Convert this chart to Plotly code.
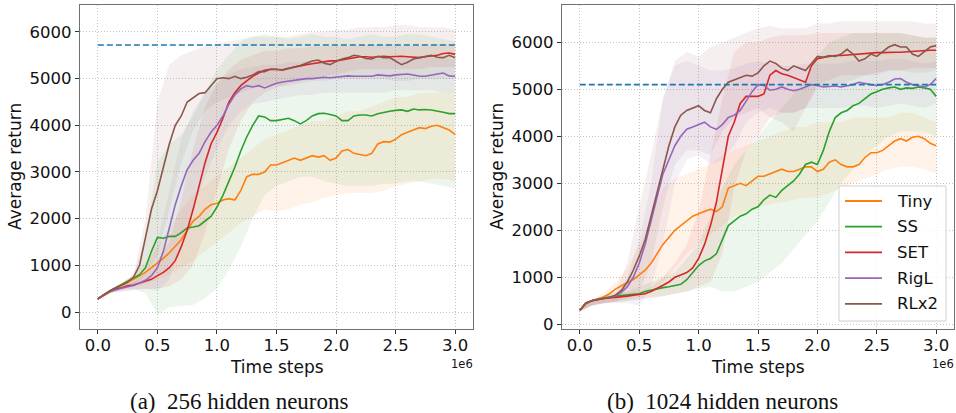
import plotly.graph_objects as go

# ---------------- data (time steps in units of 1e6) ----------------
steps = [0.0, 0.05, 0.1, 0.15, 0.2, 0.25, 0.3, 0.35, 0.4, 0.45, 0.5, 0.55, 0.6, 0.65, 0.7, 0.75,
         0.8, 0.85, 0.9, 0.95, 1.0, 1.05, 1.1, 1.15, 1.2, 1.25, 1.3, 1.35, 1.4, 1.45, 1.5, 1.55,
         1.6, 1.65, 1.7, 1.75, 1.8, 1.85, 1.9, 1.95, 2.0, 2.05, 2.1, 2.15, 2.2, 2.25, 2.3, 2.35,
         2.4, 2.45, 2.5, 2.55, 2.6, 2.65, 2.7, 2.75, 2.8, 2.85, 2.9, 2.95, 3.0]
band_steps = [0.0, 0.1, 0.2, 0.3, 0.4, 0.5, 0.6, 0.7, 0.8, 0.9, 1.0, 1.1, 1.2, 1.3, 1.4, 1.5,
              1.6, 1.7, 1.8, 1.9, 2.0, 2.1, 2.2, 2.3, 2.4, 2.5, 2.6, 2.7, 2.8, 2.9, 3.0]

methods = ["Tiny", "SS", "SET", "RigL", "RLx2"]

# ---- (a) 256 hidden neurons ----
a_tiny = [280, 360, 430, 500, 560, 630, 700, 770, 850, 950, 1050, 1150, 1270, 1400, 1550, 1750,
          1950, 2050, 2200, 2300, 2330, 2400, 2430, 2400, 2600, 2900, 2950, 2950, 3000, 3150, 3150, 3200,
          3250, 3300, 3250, 3300, 3350, 3320, 3350, 3250, 3300, 3450, 3480, 3400, 3380, 3350, 3400, 3600,
          3650, 3640, 3700, 3800, 3850, 3900, 3950, 3930, 3980, 4000, 3950, 3900, 3800]
a_ss = [280, 370, 450, 520, 590, 650, 720, 800, 950, 1300, 1600, 1580, 1620, 1620, 1700, 1800,
        1820, 1850, 1950, 2050, 2250, 2500, 2800, 3100, 3450, 3750, 4000, 4200, 4180, 4100, 4100, 4130,
        4150, 4100, 4030, 4100, 4200, 4250, 4260, 4230, 4200, 4100, 4100, 4200, 4220, 4220, 4200, 4250,
        4280, 4300, 4320, 4330, 4300, 4350, 4330, 4340, 4330, 4310, 4280, 4250, 4250]
a_set = [280, 370, 440, 490, 520, 560, 580, 620, 660, 700, 780, 850, 950, 1100, 1400, 1750,
         2200, 2700, 3200, 3600, 3850, 4150, 4500, 4700, 4850, 4950, 5050, 5120, 5180, 5200, 5200, 5190,
         5220, 5250, 5280, 5300, 5320, 5340, 5350, 5380, 5380, 5400, 5430, 5450, 5470, 5470, 5460, 5470,
         5480, 5470, 5480, 5480, 5470, 5460, 5450, 5470, 5480, 5500, 5540, 5550, 5520]
a_rigl = [280, 370, 440, 480, 510, 540, 570, 620, 680, 780, 950, 1300, 1800, 2300, 2700, 3050,
          3250, 3400, 3650, 3850, 4000, 4200, 4450, 4650, 4780, 4850, 4820, 4850, 4800, 4850, 4900, 4930,
          4950, 4970, 4980, 5000, 5000, 5020, 5030, 5020, 5030, 5050, 5060, 5050, 5050, 5060, 5050, 5080,
          5070, 5060, 5080, 5090, 5100, 5080, 5050, 5050, 5080, 5100, 5120, 5060, 5050]
a_rlx2 = [280, 370, 450, 520, 580, 640, 750, 1000, 1600, 2200, 2600, 3100, 3600, 4000, 4200, 4500,
          4600, 4680, 4700, 4850, 5000, 5020, 5000, 5050, 5000, 5030, 5080, 5150, 5150, 5200, 5200, 5180,
          5220, 5250, 5280, 5330, 5380, 5400, 5330, 5300, 5370, 5420, 5450, 5500, 5480, 5430, 5420, 5480,
          5450, 5450, 5380, 5300, 5350, 5420, 5450, 5480, 5500, 5460, 5450, 5500, 5450]

a_tiny_hi = [300, 470, 620, 820, 1050, 1400, 1800, 2200, 2500, 2700, 2900, 3100, 3300, 3500, 3700, 3800,
             3900, 4000, 4100, 4100, 4200, 4300, 4300, 4400, 4500, 4600, 4600, 4700, 4700, 4700, 4700]
a_tiny_lo = [260, 400, 500, 550, 600, 700, 800, 950, 1100, 1300, 1500, 1700, 1900, 2050, 2200, 2150,
             2200, 2300, 2350, 2450, 2500, 2550, 2550, 2550, 2600, 2700, 2750, 2800, 2850, 2850, 2800]
a_ss_hi = [300, 480, 620, 800, 1600, 3200, 3600, 3800, 4200, 4700, 5200, 5500, 5800, 5900, 5950, 5900,
           5850, 5900, 5950, 5900, 5900, 5850, 5900, 5950, 5900, 5900, 5950, 5950, 5900, 5850, 5800]
a_ss_lo = [260, 400, 480, 500, 400, -50, 100, 120, 150, 300, 500, 900, 1400, 2000, 2500, 2700,
           2800, 2900, 2900, 2800, 2750, 2700, 2700, 2700, 2750, 2750, 2800, 2800, 2750, 2700, 2650]
a_set_hi = [300, 470, 560, 650, 800, 1100, 1500, 2400, 3500, 4400, 4900, 5200, 5400, 5500, 5600, 5600,
            5650, 5650, 5700, 5700, 5700, 5700, 5720, 5720, 5720, 5720, 5700, 5700, 5720, 5750, 5720]
a_set_lo = [260, 410, 450, 470, 500, 500, 550, 700, 1000, 1700, 2600, 3500, 4100, 4500, 4700, 4800,
            4900, 4950, 5000, 5050, 5100, 5150, 5200, 5200, 5200, 5200, 5200, 5200, 5250, 5250, 5250]
a_rigl_hi = [300, 470, 550, 650, 900, 1500, 2600, 3700, 4300, 4700, 4900, 5100, 5200, 5250, 5300, 5300,
             5350, 5350, 5400, 5400, 5400, 5400, 5400, 5450, 5450, 5450, 5450, 5450, 5450, 5450, 5400]
a_rigl_lo = [260, 410, 440, 480, 500, 450, 700, 1500, 2200, 2900, 3500, 4000, 4300, 4450, 4500, 4550,
             4600, 4650, 4650, 4700, 4700, 4700, 4700, 4700, 4700, 4750, 4750, 4750, 4750, 4700, 4700]
a_rlx2_hi = [300, 480, 600, 800, 2000, 4500, 5300, 5500, 5600, 5700, 5750, 5800, 5850, 5900, 5900, 5900,
             5900, 5950, 6000, 6000, 6050, 6050, 6100, 6100, 6100, 6150, 6150, 6100, 6100, 6100, 6050]
a_rlx2_lo = [260, 420, 500, 550, 800, 1200, 2200, 3200, 3900, 4300, 4500, 4600, 4700, 4800, 4850, 4850,
             4850, 4900, 4950, 4950, 5000, 5000, 5000, 5000, 5000, 4950, 4950, 5000, 5000, 5000, 5000]
a_ref = 5720

# ---- (b) 1024 hidden neurons ----
b_tiny = [300, 430, 500, 540, 580, 650, 750, 820, 880, 950, 1050, 1150, 1300, 1500, 1700, 1850,
          2000, 2100, 2200, 2300, 2350, 2400, 2450, 2400, 2500, 2900, 2950, 3000, 2950, 3050, 3150, 3150,
          3200, 3250, 3300, 3250, 3250, 3300, 3350, 3350, 3250, 3300, 3450, 3500, 3400, 3350, 3350, 3400,
          3550, 3650, 3650, 3700, 3800, 3900, 3950, 3900, 3980, 4000, 3950, 3850, 3800]
b_ss = [300, 450, 500, 530, 560, 580, 600, 610, 620, 630, 650, 700, 730, 760, 780, 800,
        820, 850, 950, 1100, 1250, 1350, 1400, 1500, 1800, 2100, 2200, 2300, 2350, 2450, 2500, 2650,
        2750, 2700, 2850, 2950, 3050, 3200, 3400, 3450, 3400, 3700, 4100, 4400, 4500, 4550, 4650, 4700,
        4800, 4900, 4950, 5000, 5030, 5050, 5000, 5030, 5020, 5050, 5030, 5000, 4850]
b_set = [300, 450, 500, 530, 550, 560, 570, 580, 600, 620, 630, 650, 700, 760, 830, 900,
         1000, 1050, 1100, 1200, 1400, 1700, 2100, 2600, 3300, 4000, 4300, 4700, 4850, 4850, 4850, 4900,
         5300, 5400, 5330, 5300, 5250, 5200, 5150, 5500, 5650, 5680, 5700, 5720, 5720, 5730, 5750, 5760,
         5770, 5770, 5780, 5780, 5790, 5790, 5790, 5800, 5800, 5810, 5820, 5830, 5830]
b_rigl = [300, 450, 500, 530, 550, 570, 600, 680, 800, 1000, 1300, 1700, 2200, 2700, 3200, 3500,
          3800, 4000, 4150, 4200, 4250, 4300, 4200, 4150, 4250, 4400, 4450, 4550, 4750, 4950, 5100, 5080,
          4980, 5000, 5050, 5000, 4970, 5000, 5050, 5100, 5080, 5050, 5060, 5070, 5050, 5080, 5100, 5150,
          5120, 5100, 5080, 5100, 5150, 5220, 5230, 5150, 5100, 5080, 5050, 5100, 5230]
b_rlx2 = [300, 450, 500, 530, 550, 570, 620, 720, 900, 1150, 1450, 1800, 2300, 2800, 3300, 3800,
          4200, 4450, 4550, 4600, 4650, 4550, 4500, 4800, 5000, 5150, 5200, 5250, 5300, 5280, 5350, 5500,
          5600, 5550, 5450, 5400, 5500, 5450, 5400, 5550, 5700, 5680, 5720, 5700, 5750, 5850, 5750, 5600,
          5650, 5750, 5700, 5800, 5900, 5950, 5900, 5900, 5750, 5700, 5800, 5900, 5930]

b_tiny_hi = [330, 520, 650, 900, 1200, 1700, 2300, 2900, 3100, 3200, 3300, 3400, 3600, 3700, 3800, 3900,
             4000, 4100, 4200, 4200, 4300, 4300, 4300, 4400, 4400, 4400, 4400, 4500, 4500, 4400, 4300]
b_tiny_lo = [270, 400, 450, 500, 550, 600, 700, 900, 1200, 1500, 1700, 1900, 2100, 2300, 2400, 2500,
             2550, 2600, 2650, 2700, 2700, 2800, 2900, 3000, 3100, 3200, 3300, 3350, 3350, 3300, 3200]
b_ss_hi = [330, 520, 600, 650, 700, 800, 900, 1000, 1100, 1400, 1700, 2300, 2900, 3400, 3700, 4000,
           4300, 4600, 4900, 5200, 5700, 6000, 6100, 6200, 6200, 6200, 6200, 6200, 6150, 6100, 6100]
b_ss_lo = [270, 400, 450, 480, 500, 550, 580, 600, 650, 700, 750, 800, 700, 700, 800, 900,
           1100, 1300, 1600, 1900, 2200, 2600, 3000, 3300, 3600, 3800, 4000, 4100, 4100, 4100, 4000]
b_set_hi = [330, 520, 580, 620, 650, 700, 800, 1000, 1300, 1700, 2400, 3600, 4800, 5800, 6000, 6000,
            6100, 6150, 6150, 6150, 6200, 6200, 6200, 6200, 6200, 6200, 6200, 6200, 6150, 6100, 6100]
b_set_lo = [270, 400, 450, 480, 500, 520, 550, 600, 650, 700, 800, 900, 1500, 2900, 3700, 4000,
            4400, 4500, 4500, 4600, 5100, 5200, 5300, 5300, 5300, 5350, 5400, 5400, 5450, 5450, 5450]
b_rigl_hi = [330, 520, 580, 650, 1000, 1800, 3000, 4800, 5500, 5600, 5500, 5400, 5400, 5450, 5550, 5600,
             5550, 5500, 5500, 5550, 5550, 5550, 5550, 5600, 5600, 5600, 5650, 5650, 5600, 5550, 5600]
b_rigl_lo = [270, 400, 450, 450, 450, 400, 800, 1700, 3000, 3500, 3600, 3400, 3500, 3800, 4300, 4500,
             4600, 4500, 4500, 4600, 4600, 4600, 4600, 4650, 4650, 4600, 4650, 4700, 4650, 4600, 4700]
b_rlx2_hi = [330, 520, 600, 700, 1300, 2500, 3600, 4800, 5600, 5800, 5700, 5900, 6000, 6100, 6200, 6300,
             6350, 6300, 6300, 6300, 6400, 6400, 6450, 6450, 6450, 6450, 6450, 6450, 6450, 6400, 6400]
b_rlx2_lo = [270, 400, 450, 480, 600, 700, 1300, 2500, 3400, 3700, 3700, 3600, 4100, 4400, 4500, 4600,
             4400, 4300, 4100, 4600, 5000, 5100, 5100, 5200, 5300, 5300, 5400, 5400, 5350, 5350, 5400]
b_ref = 5100

y_ticks = [0, 1000, 2000, 3000, 4000, 5000, 6000]
x_ticks = [0.0, 0.5, 1.0, 1.5, 2.0, 2.5, 3.0]
x_tick_text = ["0.0", "0.5", "1.0", "1.5", "2.0", "2.5", "3.0"]
captions = ["(a)  256 hidden neurons", "(b)  1024 hidden neurons"]

# ---------------- styling ----------------
colors = ["#ff7f0e", "#2ca02c", "#d62728", "#9467bd", "#8c564b"]
fills = ["rgba(255,127,14,0.09)", "rgba(44,160,44,0.09)", "rgba(214,39,40,0.09)",
         "rgba(148,103,189,0.09)", "rgba(140,86,75,0.09)"]
W, H = 956, 413
FONT = "DejaVu Sans"

panels = [
    dict(means=[a_tiny, a_ss, a_set, a_rigl, a_rlx2],
         his=[a_tiny_hi, a_ss_hi, a_set_hi, a_rigl_hi, a_rlx2_hi],
         los=[a_tiny_lo, a_ss_lo, a_set_lo, a_rigl_lo, a_rlx2_lo],
         ref=a_ref, xpx=(80, 473), yr=[-364, 6578], xa="x", ya="y"),
    dict(means=[b_tiny, b_ss, b_set, b_rigl, b_rlx2],
         his=[b_tiny_hi, b_ss_hi, b_set_hi, b_rigl_hi, b_rlx2_hi],
         los=[b_tiny_lo, b_ss_lo, b_set_lo, b_rigl_lo, b_rlx2_lo],
         ref=b_ref, xpx=(562, 954), yr=[-100, 6794], xa="x2", ya="y2"),
]
ypx = (5, 329)

fig = go.Figure()
for p in panels:
    for i in range(len(methods)):
        fig.add_trace(go.Scatter(
            x=band_steps + band_steps[::-1], y=p["his"][i] + p["los"][i][::-1],
            fill="toself", fillcolor=fills[i], line=dict(width=0), mode="lines",
            hoverinfo="skip", showlegend=False, xaxis=p["xa"], yaxis=p["ya"]))
    for i, m in enumerate(methods):
        fig.add_trace(go.Scatter(
            x=steps, y=p["means"][i], mode="lines", name=m,
            line=dict(color=colors[i], width=1.6), showlegend=False,
            xaxis=p["xa"], yaxis=p["ya"]))
    fig.add_trace(go.Scatter(
        x=[steps[0], steps[-1]], y=[p["ref"], p["ref"]], mode="lines",
        line=dict(color="#1f77b4", width=1.6, dash="6px,3px"), showlegend=False,
        xaxis=p["xa"], yaxis=p["ya"]))

axis_common = dict(showline=True, mirror=True, linecolor="#707070", linewidth=1.3,
                   ticks="outside", ticklen=4, tickcolor="#333", tickwidth=1,
                   showgrid=True, gridcolor="#c4c4c4", griddash="1px,2px", gridwidth=1,
                   zeroline=False, tickfont=dict(family=FONT, size=16.5, color="#111"))

layout = dict(width=W, height=H, margin=dict(l=0, r=0, t=0, b=0, autoexpand=False),
              paper_bgcolor="white", plot_bgcolor="white", showlegend=False)
annotations = []
shapes = []
for k, p in enumerate(panels):
    sx = "" if k == 0 else "2"
    x0, x1 = p["xpx"]
    layout["xaxis" + sx] = dict(axis_common, domain=[x0 / W, x1 / W], range=[-0.15, 3.15],
                                tickvals=x_ticks, ticktext=x_tick_text, ticklabelstandoff=-3,
                                anchor="y" + sx)
    layout["yaxis" + sx] = dict(axis_common, domain=[1 - ypx[1] / H, 1 - ypx[0] / H],
                                range=p["yr"], tickvals=y_ticks, anchor="x" + sx)
    cx = (x0 + x1) / 2
    annotations.append(dict(text="Time steps", x=cx / W, y=1 - 367 / H, xref="paper", yref="paper",
                            showarrow=False, font=dict(family=FONT, size=17, color="#111"),
                            xanchor="center", yanchor="middle"))
    annotations.append(dict(text="1e6", x=(x1 + 1) / W, y=1 - 356 / H, xref="paper", yref="paper",
                            showarrow=False, font=dict(family=FONT, size=11.5, color="#111"),
                            xanchor="right", yanchor="top", borderpad=0))
    annotations.append(dict(text="Average return", x=(x0 - 65) / W, y=1 - 167 / H,
                            xref="paper", yref="paper", textangle=-90, showarrow=False,
                            font=dict(family=FONT, size=17, color="#111"),
                            xanchor="center", yanchor="middle"))
    capx = [239, 722][k]
    annotations.append(dict(text=captions[k], x=capx / W, y=1 - 401 / H, xref="paper", yref="paper",
                            showarrow=False, font=dict(family="Liberation Serif", size=23, color="#111"),
                            xanchor="center", yanchor="middle"))

# legend box (right panel, lower right)
lx0, lx1, ly0, ly1 = 839, 946, 186, 321
shapes.append(dict(type="rect", xref="paper", yref="paper", x0=lx0 / W, x1=lx1 / W,
                   y0=1 - ly1 / H, y1=1 - ly0 / H, line=dict(color="#d0d0d0", width=1),
                   fillcolor="rgba(255,255,255,0.85)", layer="above"))
for i, m in enumerate(methods):
    yy = 201 + i * 25.7
    shapes.append(dict(type="line", xref="paper", yref="paper", x0=845 / W, x1=882 / W,
                       y0=1 - yy / H, y1=1 - yy / H, line=dict(color=colors[i], width=1.8),
                       layer="above"))
    annotations.append(dict(text=m, x=895 / W, y=1 - yy / H, xref="paper", yref="paper",
                            showarrow=False, font=dict(family=FONT, size=16.5, color="#111"),
                            xanchor="left", yanchor="middle"))

layout["annotations"] = annotations
layout["shapes"] = shapes
fig.update_layout(**layout)
fig.write_html("out.html", config={"displayModeBar": False},
               post_script="document.body.style.margin='0';document.body.style.overflow='hidden';")
